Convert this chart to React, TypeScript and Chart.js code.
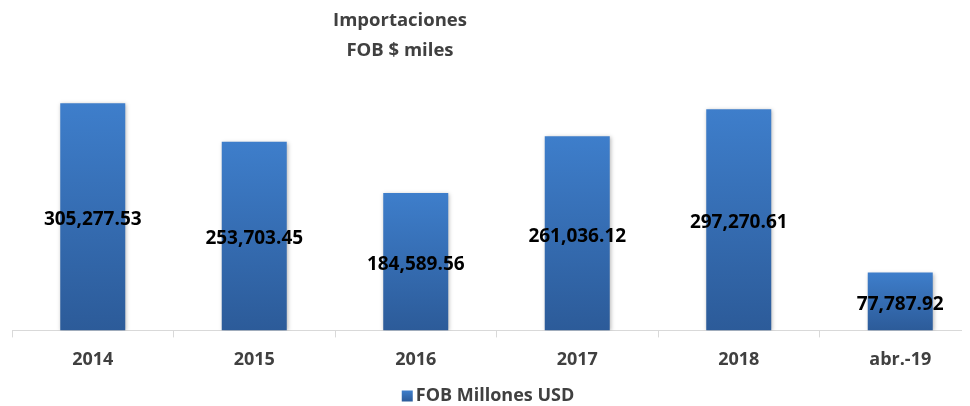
import React, { useEffect, useRef } from "react";
import { Chart, registerables } from "chart.js";

Chart.register(...registerables);

const categories = ["2014", "2015", "2016", "2017", "2018", "abr.-19"];
const values = [305277.53, 253703.45, 184589.56, 261036.12, 297270.61, 77787.92];
const valueLabels = ["305,277.53", "253,703.45", "184,589.56", "261,036.12", "297,270.61", "77,787.92"];
const titleLines = ["Importaciones", "FOB $ miles"];
const seriesName = "FOB Millones USD";

const FONT = "'Open Sans', 'Noto Sans', sans-serif";
const BAR_TOP = "#3e7ecb";
const BAR_BOTTOM = "#2c5b99";

export default function App() {
  const ref = useRef<HTMLCanvasElement | null>(null);

  useEffect(() => {
    const canvas = ref.current;
    if (!canvas) return;

    const decor = {
      id: "decor",
      beforeDatasetsDraw(chart: any) {
        const c = chart.ctx;
        c.save();
        c.shadowColor = "rgba(0,0,0,0.28)";
        c.shadowBlur = 4;
        c.shadowOffsetX = 1;
        c.shadowOffsetY = 1;
      },
      afterDatasetsDraw(chart: any) {
        const c = chart.ctx;
        c.restore();
        const meta = chart.getDatasetMeta(0);
        c.save();
        c.font = `bold 19px ${FONT}`;
        c.fillStyle = "#000000";
        c.textAlign = "center";
        c.textBaseline = "middle";
        meta.data.forEach((bar: any, i: number) => {
          const y = (bar.y + bar.base) / 2 + 3;
          c.fillText(valueLabels[i], bar.x, y);
        });
        c.restore();
      },
      afterDraw(chart: any) {
        const c = chart.ctx;
        c.save();
        // title
        c.font = `bold 18.5px ${FONT}`;
        c.fillStyle = "#404040";
        c.textAlign = "center";
        c.textBaseline = "middle";
        titleLines.forEach((t, i) => c.fillText(t, 392, 13 + i * 30));
        // legend
        c.font = `bold 18px ${FONT}`;
        const tw = c.measureText(seriesName).width;
        const box = 11;
        const gap = 3;
        const total = box + gap + tw;
        const cx = 480;
        const cy = 388;
        const x0 = cx - total / 2;
        const g = c.createLinearGradient(0, cy - box / 2, 0, cy + box / 2);
        g.addColorStop(0, BAR_TOP);
        g.addColorStop(1, BAR_BOTTOM);
        c.fillStyle = g;
        c.fillRect(x0, cy - box / 2, box, box);
        c.fillStyle = "#404040";
        c.textAlign = "left";
        c.fillText(seriesName, x0 + box + gap, cy);
        c.restore();
      },
    };

    const chart = new Chart(canvas, {
      type: "bar",
      data: {
        labels: categories,
        datasets: [
          {
            label: seriesName,
            data: values,
            backgroundColor: (ctx: any) => {
              const ch = ctx.chart;
              const ys = ch.scales && ch.scales.y;
              if (!ys || ctx.raw === undefined || ctx.type !== "data") return "#3a73bb";
              const top = ys.getPixelForValue(ctx.raw);
              const base = ys.getPixelForValue(0);
              if (!Number.isFinite(top) || !Number.isFinite(base) || top === base) return "#3a73bb";
              const g = ch.ctx.createLinearGradient(0, top, 0, base);
              g.addColorStop(0, BAR_TOP);
              g.addColorStop(1, BAR_BOTTOM);
              return g;
            },
            borderWidth: 0,
            barPercentage: 1,
            categoryPercentage: 0.4025,
          },
        ],
      },
      options: {
        responsive: false,
        animation: false,
        devicePixelRatio: 1,
        layout: { padding: { left: 4, right: 4, top: 62, bottom: 23 } },
        plugins: {
          title: { display: false },
          tooltip: { enabled: false },
          legend: { display: false },
        },
        scales: {
          x: {
            offset: true,
            grid: {
              offset: true,
              drawOnChartArea: false,
              drawTicks: true,
              tickLength: 7,
              color: "#d9d9d9",
              lineWidth: 1,
            },
            border: { display: true, color: "#d9d9d9", width: 1 },
            ticks: {
              color: "#404040",
              font: { family: FONT, size: 18, weight: "bold" },
              padding: 12,
              maxRotation: 0,
            },
          },
          y: {
            display: false,
            min: 0,
            max: 350000,
          },
        },
      },
      plugins: [decor],
    });

    return () => chart.destroy();
  }, []);

  return (
    <div style={{ width: 962, height: 398, overflow: "hidden" }}>
      <canvas ref={ref} width={977} height={398} style={{ display: "block", width: 977, height: 398 }} />
    </div>
  );
}
